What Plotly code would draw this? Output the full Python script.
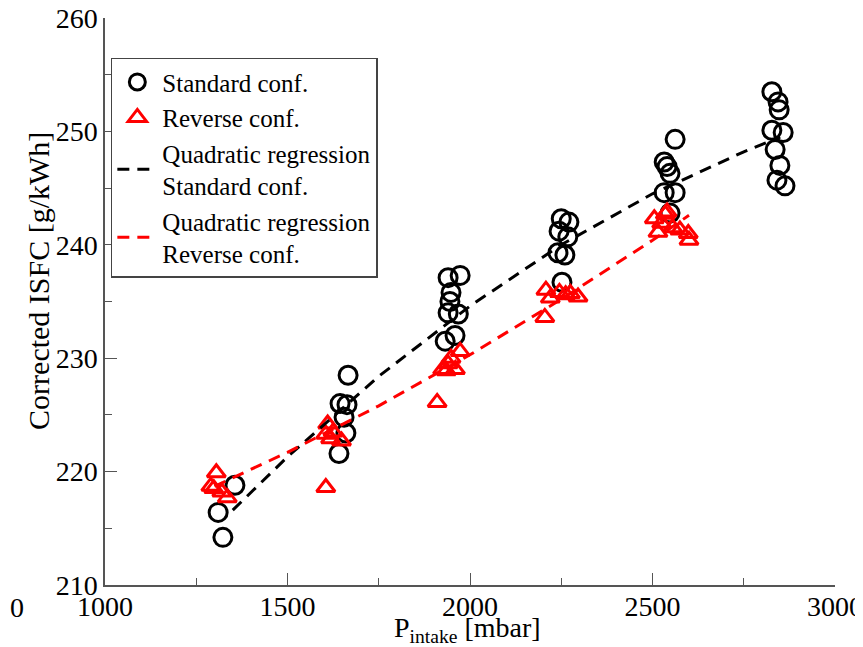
import plotly.graph_objects as go

# Standard configuration (black open circles)
std_x = [1310, 1323, 1356,
         1666, 1644, 1663, 1655, 1660, 1641,
         1940, 1973, 1948, 1945, 1940, 1968, 1959, 1932,
         2250, 2271, 2244, 2268, 2241, 2260, 2252,
         2562, 2532, 2540, 2548, 2532, 2562, 2548,
         2827, 2844, 2847, 2827, 2858, 2836, 2849, 2841, 2863]
std_y = [216.4, 214.2, 218.8,
         228.5, 226.0, 225.9, 224.8, 223.4, 221.6,
         237.1, 237.3, 235.8, 235.0, 234.0, 233.9, 232.0, 231.5,
         242.3, 242.0, 241.2, 240.7, 239.3, 239.1, 236.7,
         249.3, 247.3, 246.9, 246.3, 244.6, 244.6, 242.8,
         253.5, 252.6, 251.9, 250.1, 249.9, 248.4, 247.0, 245.7, 245.2]

# Reverse configuration (red open triangles)
rev_x = [1305, 1290, 1298, 1320, 1335,
         1610, 1605, 1625, 1618, 1648, 1605,
         1910, 1973, 1948, 1940, 1925, 1960, 1935,
         2208, 2220, 2245, 2262, 2275, 2296, 2205,
         2505, 2515, 2535, 2540, 2555, 2575, 2598, 2600, 2525]
rev_y = [219.9, 218.7, 218.5, 218.2, 217.7,
         224.2, 223.3, 223.5, 222.9, 222.7, 218.6,
         226.1, 230.6, 230.0, 229.5, 229.0, 229.0, 228.9,
         236.0, 235.3, 235.8, 235.6, 235.7, 235.4, 233.6,
         242.3, 241.1, 242.7, 242.9, 241.5, 241.3, 241.0, 240.4, 241.9]

# Quadratic regression curves
fit_std_x = [1350, 1500, 1750, 2000, 2250, 2500, 2750, 2850]
fit_std_y = [216.6, 221.3, 228.4, 234.6, 240.0, 244.5, 248.2, 249.5]
fit_rev_x = [1300, 1500, 1750, 2000, 2250, 2500, 2600]
fit_rev_y = [218.7, 221.7, 225.8, 230.3, 235.2, 240.4, 242.6]

FONT = "Liberation Serif"

fig = go.Figure()
fig.add_trace(go.Scatter(
    x=std_x, y=std_y, mode="markers", name="Standard conf.",
    marker=dict(symbol="circle-open", size=18, color="black", line=dict(width=3, color="black"))))
fig.add_trace(go.Scatter(
    x=rev_x, y=rev_y, mode="markers", name="Reverse conf.",
    marker=dict(symbol="triangle-up-open", size=16, color="red", line=dict(width=3, color="red"))))
fig.add_trace(go.Scatter(
    x=fit_std_x, y=fit_std_y, mode="lines", name="Quadratic regression<br>Standard conf.",
    line=dict(color="black", width=3, dash="12px,8px")))
fig.add_trace(go.Scatter(
    x=fit_rev_x, y=fit_rev_y, mode="lines", name="Quadratic regression<br>Reverse conf.",
    line=dict(color="red", width=3, dash="12px,8px")))

axis_common = dict(
    showgrid=False, zeroline=False, showline=True, linecolor="#555", linewidth=1.5,
    ticks="inside", ticklen=12, tickwidth=1.2, tickcolor="#555", automargin=False,
    ticklabeloverflow="allow",
    tickfont=dict(family=FONT, size=28, color="black"),
)

fig.update_xaxes(range=[1000, 3000], dtick=500, tick0=1000, ticklabelstandoff=-4,
                 minor=dict(ticks="inside", ticklen=7, dtick=250, tickcolor="#555", tickwidth=1.2),
                 **axis_common)
fig.update_yaxes(range=[210, 260], dtick=10, tick0=210,
                 minor=dict(ticks="inside", ticklen=7, dtick=5, tickcolor="#555", tickwidth=1.2),
                 **axis_common)

# page body has an 8px margin: shift figure geometry accordingly
fig.update_layout(
    width=855, height=639, autosize=False,
    margin=dict(l=97, r=28, t=10, b=62),
    plot_bgcolor="white", paper_bgcolor="white",
    legend=dict(x=0.008, y=0.93, xanchor="left", yanchor="top",
                bgcolor="white", bordercolor="#444", borderwidth=1.5,
                font=dict(family=FONT, size=25, color="black"),
                tracegroupgap=0, itemwidth=40),
    annotations=[
        dict(text="Corrected ISFC [g/kWh]", textangle=-90, xref="paper", yref="paper",
             x=-0.092, y=0.536, xanchor="center", yanchor="middle", showarrow=False,
             font=dict(family=FONT, size=30, color="black")),
        dict(text="P<sub>intake</sub> [mbar]", xref="paper", yref="paper",
             x=0.496, y=-0.078, xanchor="center", yanchor="middle", showarrow=False,
             font=dict(family=FONT, size=28, color="black")),
        dict(text="0", xref="paper", yref="paper", x=-0.1329, y=-0.04,
             xanchor="left", yanchor="middle", showarrow=False,
             font=dict(family=FONT, size=28, color="black")),
    ],
)

fig.write_html("out.html")
